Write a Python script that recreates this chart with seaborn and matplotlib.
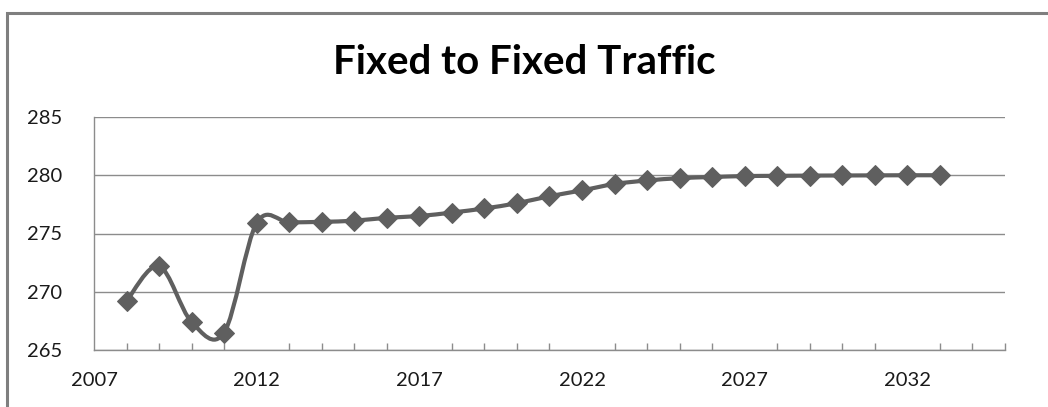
import numpy as np
import pandas as pd
import matplotlib
matplotlib.use("Agg")
import matplotlib.pyplot as plt
from matplotlib.path import Path
from matplotlib.patches import PathPatch, Rectangle
from matplotlib.ticker import MultipleLocator
import seaborn as sns

# ---- data ----
years = list(range(2008, 2034))
traffic = [269.2, 272.2, 267.4, 266.5, 275.9, 275.95, 276.0, 276.1, 276.35, 276.5,
           276.8, 277.15, 277.6, 278.2, 278.7, 279.25, 279.55, 279.75, 279.85, 279.93,
           279.95, 279.97, 279.98, 279.99, 280.0, 280.0]
title = "Fixed to Fixed Traffic"
y_ticks = [265, 270, 275, 280, 285]
x_ticks = [2007, 2012, 2017, 2022, 2027, 2032]

df = pd.DataFrame({"year": years, "traffic": traffic})

sns.set_theme(style="white")
plt.rcParams['font.family'] = ['Lato', 'DejaVu Sans']

W, H = 1048, 407
fig = plt.figure(figsize=(W / 100, H / 100), dpi=100)
ax = fig.add_axes([94 / W, 1 - 350 / H, (1005 - 94) / W, (350 - 117) / H])

LINE = "#5f5f5f"

# smoothed line (Catmull-Rom Bezier, like Excel's smoothed line) built from the data
x = np.asarray(years, float)
y = np.asarray(traffic, float)
n = len(x)
verts = [(x[0], y[0])]
codes = [Path.MOVETO]
for i in range(n - 1):
    p0 = np.array([x[max(i - 1, 0)], y[max(i - 1, 0)]])
    p1 = np.array([x[i], y[i]])
    p2 = np.array([x[i + 1], y[i + 1]])
    p3 = np.array([x[min(i + 2, n - 1)], y[min(i + 2, n - 1)]])
    c1 = p1 + (p2 - p0) / 6.0
    c2 = p2 - (p3 - p1) / 6.0
    verts += [tuple(c1), tuple(c2), tuple(p2)]
    codes += [Path.CURVE4] * 3
ax.add_patch(PathPatch(Path(verts, codes), facecolor="none", edgecolor=LINE,
                       lw=3.0, capstyle="round", joinstyle="round", zorder=3))

sns.lineplot(data=df, x="year", y="traffic", ax=ax, linestyle="none",
             marker="D", markersize=10.5, color=LINE, markeredgecolor=LINE,
             zorder=4)

ax.set_xlim(2007, 2035)
ax.set_ylim(265, 285)
ax.set_yticks(y_ticks)
ax.set_xticks(x_ticks)
ax.xaxis.set_minor_locator(MultipleLocator(1))
ax.set_xlabel("")
ax.set_ylabel("")

ax.grid(axis="y", color="#8c8c8c", lw=1.0)
ax.set_axisbelow(True)
for s in ["top", "right"]:
    ax.spines[s].set_visible(False)
for s in ["left", "bottom"]:
    ax.spines[s].set_color("#8c8c8c")
    ax.spines[s].set_linewidth(1.0)

ax.tick_params(axis="y", length=0, pad=48, labelsize=14.5, labelcolor="#1a1a1a")
ax.tick_params(axis="x", which="major", direction="in", length=8, width=1,
               color="#8c8c8c", pad=16, labelsize=14.5, labelcolor="#1a1a1a")
ax.tick_params(axis="x", which="minor", direction="in", length=5, width=1,
               color="#8c8c8c", bottom=True)
for lab in ax.get_yticklabels():
    lab.set_horizontalalignment("left")

fig.text(0.5, 1 - 62 / H, title, ha="center", va="center",
         fontsize=29, fontweight="bold", color="#000000")

# outer chart frame (grey border, partly cropped)
fig.patches.append(Rectangle((6.5 / W, -0.1), 1.2, (H - 13.5) / H + 0.1,
                             transform=fig.transFigure, fill=False,
                             edgecolor="#7f7f7f", lw=2.2))

fig.savefig("out.png", dpi=100, facecolor="white")
